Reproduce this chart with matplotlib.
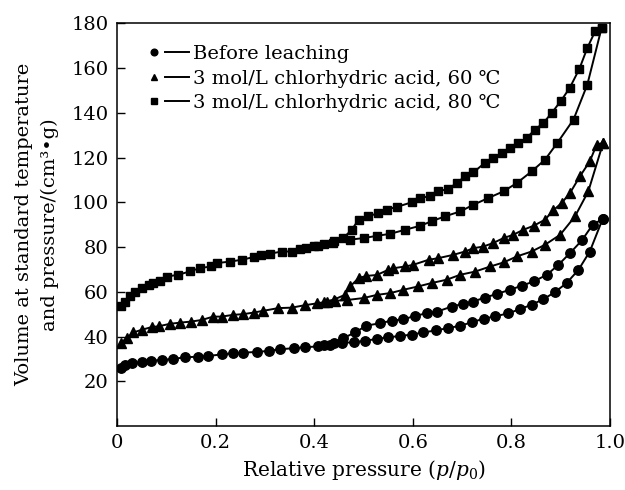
import matplotlib
matplotlib.use("Agg")
import matplotlib.pyplot as plt
from matplotlib.lines import Line2D
from matplotlib.legend_handler import HandlerTuple

plt.rcParams['font.family'] = ['DejaVu Serif', 'DejaVu Sans']
plt.rcParams['mathtext.fontset'] = 'dejavuserif'

labels = ["Before leaching",
          "3 mol/L chlorhydric acid, 60 \u2103",
          "3 mol/L chlorhydric acid, 80 \u2103"]

# Before leaching (circles)
p_bl_ads = [0.008, 0.016, 0.03, 0.05, 0.068, 0.091, 0.114, 0.138, 0.165, 0.185, 0.212, 0.236, 0.256, 0.284,
            0.308, 0.331, 0.359, 0.382, 0.408, 0.432, 0.456, 0.48, 0.503, 0.527, 0.55, 0.574, 0.598, 0.621,
            0.648, 0.672, 0.696, 0.72, 0.744, 0.767, 0.794, 0.817, 0.841, 0.865, 0.888, 0.912, 0.936, 0.959, 0.985]
v_bl_ads = [25.8, 27.3, 28, 28.5, 29.2, 29.5, 30, 30.7, 31, 31.3, 32, 32.5, 32.8, 33.1,
            33.6, 34.3, 34.8, 35.2, 35.6, 36.4, 37.2, 37.4, 38.1, 38.9, 39.7, 40.2, 40.9, 41.8,
            42.8, 43.8, 44.8, 46.4, 48, 49, 50.4, 52.2, 54.2, 56.7, 59.8, 63.9, 69.8, 78, 92.5]
p_bl_des = [0.985, 0.965, 0.943, 0.919, 0.895, 0.872, 0.845, 0.821, 0.797, 0.77, 0.746, 0.722, 0.702, 0.679,
            0.649, 0.628, 0.604, 0.581, 0.557, 0.533, 0.506, 0.483, 0.459, 0.44, 0.42]
v_bl_des = [92.5, 90, 83, 77.3, 72, 67.6, 64.6, 62.7, 60.9, 59, 57.4, 55.6, 54.6, 53.4,
            51.1, 50.4, 49.2, 47.7, 47.1, 45.9, 44.9, 41.8, 39.3, 37.3, 36.2]

# 60 C (triangles)
p_60_ads = [0.0075, 0.02, 0.033, 0.05, 0.07, 0.085, 0.108, 0.128, 0.151, 0.172, 0.195, 0.212, 0.236, 0.256,
            0.277, 0.297, 0.327, 0.354, 0.381, 0.405, 0.425, 0.442, 0.466, 0.5, 0.527, 0.554, 0.581, 0.611,
            0.638, 0.669, 0.696, 0.726, 0.757, 0.784, 0.811, 0.841, 0.868, 0.899, 0.929, 0.956, 0.986]
v_60_ads = [37.3, 39.2, 41.8, 43, 44.2, 44.6, 45.7, 46.2, 46.7, 47.4, 48.9, 48.9, 49.7, 50,
            50.7, 51.5, 52.7, 52.9, 54, 54.8, 55.5, 56, 56.3, 57.2, 58.6, 59.4, 60.9, 62.4,
            63.9, 65.4, 67.6, 69, 71.3, 73.1, 75.8, 78, 81, 85.5, 93.7, 104.9, 126.5]
p_60_des = [0.986, 0.973, 0.959, 0.939, 0.919, 0.902, 0.885, 0.868, 0.845, 0.824, 0.804, 0.784, 0.763, 0.743,
            0.723, 0.706, 0.682, 0.651, 0.632, 0.6, 0.584, 0.56, 0.55, 0.527, 0.506, 0.49, 0.473, 0.462,
            0.44, 0.42]
v_60_des = [126.5, 125.8, 118.3, 111.6, 104.2, 99.7, 96.4, 92.2, 89.5, 87.7, 85.5, 84, 81.8, 80.2,
            79.5, 78, 76.5, 75, 74.3, 72, 71.3, 70.5, 69.8, 67.5, 67.1, 66.1, 62.4, 58.6,
            56.5, 55.5]

# 80 C (squares)
p_80_ads = [0.0075, 0.016, 0.026, 0.036, 0.05, 0.064, 0.074, 0.087, 0.101, 0.124, 0.148, 0.168, 0.191, 0.202,
            0.229, 0.253, 0.277, 0.293, 0.31, 0.334, 0.354, 0.371, 0.384, 0.408, 0.439, 0.473, 0.5, 0.527,
            0.554, 0.584, 0.615, 0.638, 0.665, 0.696, 0.723, 0.753, 0.784, 0.811, 0.841, 0.868, 0.893, 0.926,
            0.954, 0.983]
v_80_ads = [53.7, 55.6, 58.2, 60, 61.6, 63.1, 63.9, 64.9, 66.8, 67.6, 69.1, 70.6, 71.3, 72.8,
            73.5, 74.3, 75.5, 76.5, 77, 78, 78, 79.1, 79.5, 80.3, 81.8, 83.3, 84, 85,
            85.9, 87.7, 89.5, 91.5, 93.7, 95.9, 98.9, 101.9, 104.9, 108.6, 113.8, 119, 126.5, 137,
            152.6, 178]
p_80_des = [0.983, 0.97, 0.954, 0.938, 0.918, 0.9, 0.882, 0.865, 0.848, 0.831, 0.814, 0.797, 0.78, 0.763,
            0.746, 0.723, 0.706, 0.689, 0.672, 0.652, 0.634, 0.615, 0.598, 0.567, 0.547, 0.53, 0.51, 0.49,
            0.476, 0.459, 0.44, 0.42, 0.40]
v_80_des = [178, 176.5, 169, 159.7, 151, 145.2, 140, 135.5, 132.5, 128.8, 126.5, 124.3, 122, 119.8,
            117.6, 113.4, 111.6, 108.6, 106, 104.9, 102.7, 101.9, 100, 97.9, 96.7, 95.2, 93.7, 92.2,
            87.7, 84, 82.5, 81.3, 80.5]

x_ticks = [0, 0.2, 0.4, 0.6, 0.8, 1.0]
x_ticklabels = ["0", "0.2", "0.4", "0.6", "0.8", "1.0"]
y_ticks = [20, 40, 60, 80, 100, 120, 140, 160, 180]

fig = plt.figure(figsize=(6.25, 4.9), dpi=100)
ax = fig.add_axes([0.1872, 0.1306, 0.7888, 0.8218])

series = [
    (p_bl_ads, v_bl_ads, p_bl_des, v_bl_des, 'o', 6.8, 4.8),
    (p_60_ads, v_60_ads, p_60_des, v_60_des, '^', 6.8, 5.0),
    (p_80_ads, v_80_ads, p_80_des, v_80_des, 's', 6.0, 4.4),
]
handles = []
for (pa, va, pd_, vd, m, ms, lms) in series:
    ax.plot(pa, va, color='black', lw=1.4, marker=m, ms=ms, mfc='black', mec='black')
    ax.plot(pd_, vd, color='black', lw=1.4, marker=m, ms=ms, mfc='black', mec='black')
    hm = Line2D([], [], color='black', marker=m, ms=lms, ls='none')
    hl = Line2D([], [], color='black', lw=1.4)
    handles.append((hm, hl))

ax.legend(handles, labels, handler_map={tuple: HandlerTuple(ndivide=None, pad=0.0)},
          loc='upper left', bbox_to_anchor=(0.035, 0.965), frameon=False, fontsize=14,
          handlelength=2.4, handletextpad=0.2, labelspacing=0.33, borderaxespad=0.0)

ax.set_xlim(0, 1.0)
ax.set_ylim(0, 180)
ax.set_xticks(x_ticks)
ax.set_xticklabels(x_ticklabels)
ax.set_yticks(y_ticks)
ax.tick_params(direction='in', length=6, width=1, labelsize=14, top=False, right=False, pad=6)
for s in ax.spines.values():
    s.set_linewidth(1.1)

ax.set_xlabel("Relative pressure ($p$/$p_0$)", fontsize=14.5, labelpad=4)
ax.set_ylabel("Volume at standard temperature\nand pressure/(cm\u00b3\u2022g)", fontsize=14, labelpad=9,
              linespacing=1.55)

fig.savefig("out.png", dpi=100)
